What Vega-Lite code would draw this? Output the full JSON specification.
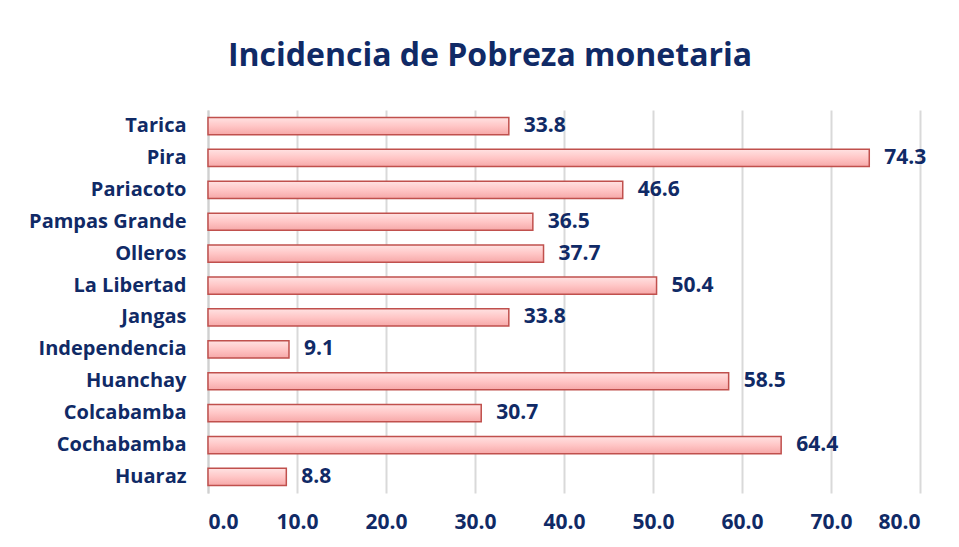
{
  "$schema": "https://vega.github.io/schema/vega-lite/v6.json",
  "width": 712,
  "height": 383,
  "autosize": {"type": "none"},
  "padding": {"left": 208, "top": 110, "right": 39, "bottom": 54},
  "background": "white",
  "title": {
    "text": "Incidencia de Pobreza monetaria",
    "font": "Open Sans",
    "fontSize": 32,
    "fontWeight": "bold",
    "color": "#102a66",
    "anchor": "middle",
    "dx": -74,
    "offset": 37
  },
  "data": {
    "values": [
      {"distrito": "Tarica", "valor": 33.8},
      {"distrito": "Pira", "valor": 74.3},
      {"distrito": "Pariacoto", "valor": 46.6},
      {"distrito": "Pampas Grande", "valor": 36.5},
      {"distrito": "Olleros", "valor": 37.7},
      {"distrito": "La Libertad", "valor": 50.4},
      {"distrito": "Jangas", "valor": 33.8},
      {"distrito": "Independencia", "valor": 9.1},
      {"distrito": "Huanchay", "valor": 58.5},
      {"distrito": "Colcabamba", "valor": 30.7},
      {"distrito": "Cochabamba", "valor": 64.4},
      {"distrito": "Huaraz", "valor": 8.8}
    ]
  },
  "encoding": {
    "y": {
      "field": "distrito",
      "type": "nominal",
      "sort": null,
      "title": null,
      "scale": {"paddingInner": 0.46, "paddingOuter": 0.233},
      "axis": {
        "ticks": false,
        "domainColor": "#d0d0d0",
        "domainWidth": 2,
        "labelFont": "Open Sans",
        "labelFontSize": 20,
        "labelFontWeight": "bold",
        "labelColor": "#102a66",
        "labelPadding": 22
      }
    },
    "x": {
      "field": "valor",
      "type": "quantitative",
      "title": null,
      "scale": {"domain": [0, 80], "nice": false},
      "axis": {
        "values": [0, 10, 20, 30, 40, 50, 60, 70, 80],
        "format": ".1f",
        "grid": true,
        "gridColor": "#d9d9d9",
        "gridWidth": 2,
        "domain": false,
        "ticks": false,
        "labelFont": "Open Sans",
        "labelFontSize": 21,
        "labelFontWeight": "bold",
        "labelColor": "#102a66",
        "labelPadding": 18
      }
    }
  },
  "layer": [
    {
      "mark": {
        "type": "bar",
        "stroke": "#c0504d",
        "strokeWidth": 1.5,
        "fill": {
          "gradient": "linear",
          "x1": 0, "y1": 0, "x2": 0, "y2": 1,
          "stops": [
            {"offset": 0, "color": "#ffe2e2"},
            {"offset": 0.5, "color": "#ffc6c6"},
            {"offset": 1, "color": "#f6a8a8"}
          ]
        }
      }
    },
    {
      "mark": {
        "type": "text",
        "align": "left",
        "dx": 15,
        "font": "Open Sans",
        "fontSize": 21,
        "fontWeight": "bold",
        "color": "#102a66"
      },
      "encoding": {
        "text": {"field": "valor", "type": "quantitative", "format": ".1f"}
      }
    }
  ],
  "config": {"view": {"stroke": null}}
}
